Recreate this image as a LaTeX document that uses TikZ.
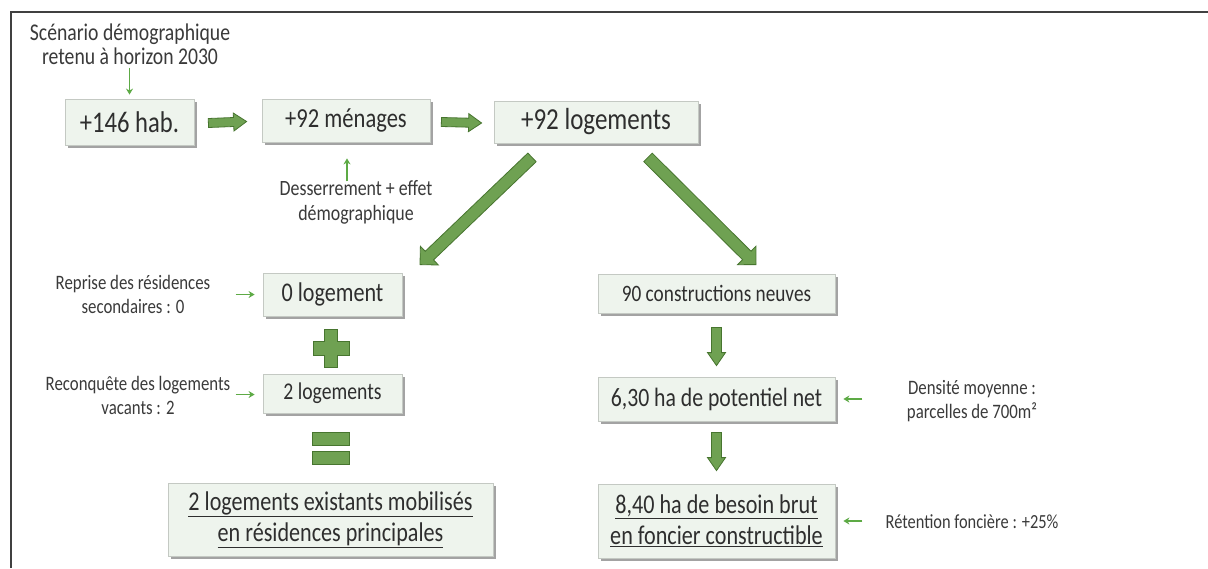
\documentclass[tikz,border=0pt]{standalone}
\usepackage{fontspec}
\setmainfont{Carlito}[FakeStretch=0.82]
\usetikzlibrary{calc,shadows,arrows.meta}
\definecolor{boxfill}{HTML}{EEF4ED}
\definecolor{boxline}{HTML}{C4C9C3}
\definecolor{fatfill}{HTML}{6FA152}
\definecolor{fatline}{HTML}{47752F}
\definecolor{thingreen}{HTML}{5DAA45}
\definecolor{txt}{HTML}{2E2E2E}
\definecolor{lbl}{HTML}{3A3A3A}
\newcommand\fatarrow[5]{%
  \coordinate (fah) at ($(#2)!#5!(#1)$);
  \filldraw[fat] ($(#1)!#3!90:(#2)$) -- ($(fah)!#3!90:(#2)$) -- ($(fah)!#4!90:(#2)$) -- (#2) -- ($(fah)!#4!-90:(#2)$) -- ($(fah)!#3!-90:(#2)$) -- ($(#1)!#3!-90:(#2)$) -- cycle;}
\begin{document}
\begin{tikzpicture}[x=1pt,y=-1pt,
  box/.style={draw=boxline, line width=0.8pt, fill=boxfill, inner sep=0pt, text=txt, align=center,
    drop shadow={shadow xshift=2.5pt, shadow yshift=-2.5pt, fill=black!45, opacity=0.8}},
  lbl/.style={inner sep=0pt, text=lbl, align=center, font=\fontsize{20.5}{24}\selectfont},
  fat/.style={fill=fatfill, draw=fatline, line width=0.8pt, line join=miter},
  thinarr/.style={draw=thingreen, line width=1.5pt, -{Stealth[length=6pt,width=7pt]}}]
\useasboundingbox (0,0) rectangle (1208,568);
\fill[white] (0,0) rectangle (1208,568);
\draw[line width=2pt, black!75] (11,568) -- (11,12) -- (1208,12);

% boxes
\node[box, minimum width=129pt, minimum height=46pt, font=\fontsize{30}{30}\selectfont] (hab) at (129.5,122) {+146 hab.};
\node[box, minimum width=168pt, minimum height=43pt, font=\fontsize{27.5}{27.5}\selectfont] (men) at (346,120.5) {+92 ménages};
\node[box, minimum width=204pt, minimum height=42pt, font=\fontsize{30.5}{30.5}\selectfont] (log) at (596,122) {+92 logements};
\node[box, minimum width=139pt, minimum height=43pt, font=\fontsize{27}{27}\selectfont] (zero) at (332.5,294.5) {0 logement};
\node[box, minimum width=139pt, minimum height=39pt, font=\fontsize{24}{24}\selectfont] (two) at (332.5,393.5) {2 logements};
\node[box, minimum width=325pt, minimum height=73pt, font=\fontsize{27}{31}\selectfont] (bigl) at (330.5,519.5) {\underline{2 logements existants mobilisés}\\\underline{en résidences principales}};
\node[box, minimum width=237pt, minimum height=39pt, font=\fontsize{23.5}{23.5}\selectfont] (cons) at (716.5,293.5) {90 constructions neuves};
\node[box, minimum width=237pt, minimum height=44pt, font=\fontsize{26.5}{26.5}\selectfont] (net) at (716.5,399) {6,30 ha de potentiel net};
\node[box, minimum width=237pt, minimum height=74pt, font=\fontsize{27}{31}\selectfont] (brut) at (716.5,521) {\underline{8,40 ha de besoin brut}\\\underline{en foncier constructible}};

% labels
\node[lbl, font=\fontsize{24}{24}\selectfont] (scen) at (130,44) {Scénario démographique\\retenu à horizon 2030};
\node[lbl, font=\fontsize{21.8}{25}\selectfont] (dess) at (356,202) {Desserrement + effet\\démographique};
\node[lbl] (rep) at (133,294) {Reprise des résidences\\secondaires : 0};
\node[lbl] (recon) at (138,395) {Reconquête des logements\\vacants : 2};
\node[lbl] (dens) at (972,401) {Densité moyenne :\\parcelles de 700m²};
\node[lbl, font=\fontsize{20}{24}\selectfont] (ret) at (972,522) {Rétention foncière : +25\%};

% thin arrows
\coordinate (t1) at ($(hab.north)+(0,-31)$);
\draw[thinarr, shorten >=4pt] (t1) -- (hab.north);
\coordinate (t2) at ($(men.south)+(1,39)$);
\draw[thinarr, shorten >=16pt] (t2) -- ($(men.south)+(1,0)$);
\coordinate (t3) at ($(zero.west)+(-27,0)$);
\draw[thinarr, shorten >=8pt] (t3) -- (zero.west);
\coordinate (t4) at ($(two.west)+(-27,1)$);
\draw[thinarr, shorten >=8pt] (t4) -- ($(two.west)+(0,1)$);
\coordinate (t5) at ($(net.east)+(27,0)$);
\draw[thinarr, shorten >=8pt] (t5) -- (net.east);
\coordinate (t6) at ($(brut.east)+(27,0)$);
\draw[thinarr, shorten >=8pt] (t6) -- (brut.east);

% fat arrows
\coordinate (a1s) at ($(hab.east)+(14,1)$);
\coordinate (a1e) at ($(men.west)+(-15,1)$);
\fatarrow{a1s}{a1e}{4.5pt}{9pt}{13pt}
\coordinate (a2s) at ($(men.east)+(11,1.5)$);
\coordinate (a2e) at ($(log.west)+(-12,1)$);
\fatarrow{a2s}{a2e}{4.5pt}{9pt}{13pt}
\coordinate (a3s) at ($(log.south)+(-64,14)$);
\coordinate (a3e) at ($(zero.north)+(87.5,-8)$);
\fatarrow{a3s}{a3e}{6pt}{13pt}{13pt}
\coordinate (a4s) at ($(log.south)+(52,14)$);
\coordinate (a4e) at ($(cons.north)+(39.5,-9)$);
\fatarrow{a4s}{a4e}{6pt}{13pt}{13pt}
\coordinate (a5s) at ($(cons.south)+(0,14)$);
\coordinate (a5e) at ($(net.north)+(0,-11)$);
\fatarrow{a5s}{a5e}{5pt}{9pt}{13pt}
\coordinate (a6s) at ($(net.south)+(0,11)$);
\coordinate (a6e) at ($(brut.north)+(0,-13)$);
\fatarrow{a6s}{a6e}{5pt}{9pt}{13pt}

% plus and equals
\coordinate (pc) at (331,348.5);
\filldraw[fat] ($(pc)+(-6.5,-19)$) -- ($(pc)+(6.5,-19)$) -- ($(pc)+(6.5,-7)$) -- ($(pc)+(18,-7)$) -- ($(pc)+(18,7)$) -- ($(pc)+(6.5,7)$) -- ($(pc)+(6.5,19)$) -- ($(pc)+(-6.5,19)$) -- ($(pc)+(-6.5,7)$) -- ($(pc)+(-18,7)$) -- ($(pc)+(-18,-7)$) -- ($(pc)+(-6.5,-7)$) -- cycle;
\coordinate (ec) at (330.5,448);
\filldraw[fat] ($(ec)+(-18.5,-16)$) rectangle ($(ec)+(18.5,-3)$);
\filldraw[fat] ($(ec)+(-18.5,3)$) rectangle ($(ec)+(18.5,16)$);
\end{tikzpicture}
\end{document}
